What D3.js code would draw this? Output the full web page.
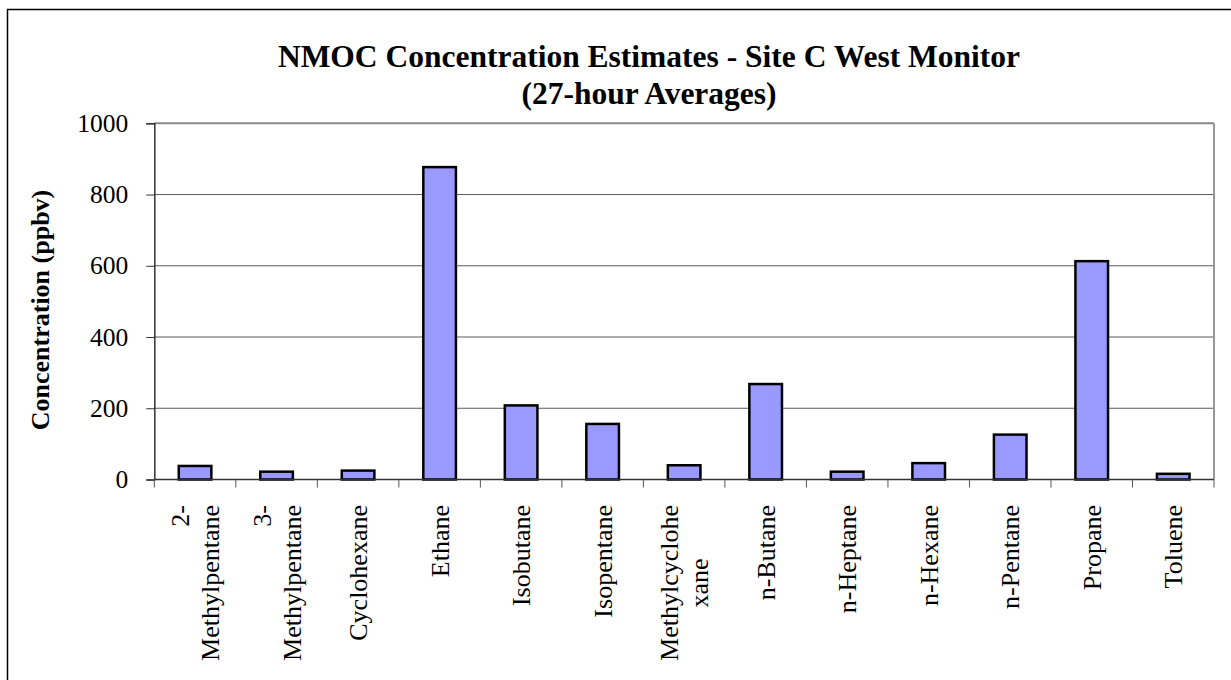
<!DOCTYPE html>
<html>
<head>
<meta charset="utf-8">
<script src="https://cdn.jsdelivr.net/npm/d3@7"></script>
<style>
  html, body { margin: 0; padding: 0; background: #fff; }
  svg { display: block; }
  text { font-family: "Liberation Serif", "Times New Roman", serif; fill: #000; }
</style>
</head>
<body>
<script>
// ---- data ----
const categories = [
  "2-\nMethylpentane", "3-\nMethylpentane", "Cyclohexane", "Ethane", "Isobutane",
  "Isopentane", "Methylcyclohe\nxane", "n-Butane", "n-Heptane", "n-Hexane",
  "n-Pentane", "Propane", "Toluene"
];
const values = [38, 22, 25, 877, 208, 156, 40, 268, 22, 46, 126, 613, 16];
const yTicks = [0, 200, 400, 600, 800, 1000];
const titleLines = ["NMOC Concentration Estimates - Site C West Monitor", "(27-hour Averages)"];
const yLabel = "Concentration (ppbv)";

// ---- layout ----
const W = 1231, H = 680;
const plot = { left: 154.3, right: 1214, top: 123.3, bottom: 479.5 };

const svg = d3.select("body").append("svg").attr("width", W).attr("height", H);

// outer chart border (only left/top visible in reference)
svg.append("rect")
  .attr("x", 7.5).attr("y", 9.5).attr("width", 1400).attr("height", 800)
  .attr("fill", "#fff").attr("stroke", "#000").attr("stroke-width", 1.5);

const x = d3.scaleBand().domain(categories).range([plot.left, plot.right]).padding(0);
const y = d3.scaleLinear().domain([0, 1000]).range([plot.bottom, plot.top]);

// gridlines
svg.append("g").selectAll("line").data(yTicks.filter(t => t > 0 && t < 1000)).join("line")
  .attr("x1", plot.left).attr("x2", plot.right)
  .attr("y1", d => y(d)).attr("y2", d => y(d))
  .attr("stroke", "#5a5a5a").attr("stroke-width", 1);

// plot area border (top, right)
svg.append("line").attr("x1", plot.left).attr("x2", plot.right)
  .attr("y1", y(1000)).attr("y2", y(1000)).attr("stroke", "#888").attr("stroke-width", 2);
svg.append("line").attr("x1", plot.right).attr("x2", plot.right)
  .attr("y1", plot.top).attr("y2", plot.bottom).attr("stroke", "#999").attr("stroke-width", 2);

// bars
const bw = x.bandwidth() / 2.5;
svg.append("g").selectAll("rect").data(categories).join("rect")
  .attr("x", d => x(d) + x.bandwidth() / 2 - bw / 2)
  .attr("y", (d, i) => y(values[i]))
  .attr("width", bw)
  .attr("height", (d, i) => y(0) - y(values[i]))
  .attr("fill", "#9999FF").attr("stroke", "#000").attr("stroke-width", 2.5);

// y axis
const yAxis = d3.axisLeft(y).tickValues(yTicks).tickSize(8).tickPadding(18).tickFormat(d3.format("d"));
const gy = svg.append("g").attr("transform", `translate(${plot.left},0)`).call(yAxis);
gy.select(".domain").attr("stroke", "#333").attr("stroke-width", 1.5);
gy.selectAll(".tick line").attr("stroke", "#333").attr("stroke-width", 1);
gy.selectAll(".tick text").style("font-size", "25.5px").attr("fill", "#000")
  .attr("font-family", "Liberation Serif");

// x axis line and ticks at band boundaries
svg.append("line").attr("x1", plot.left).attr("x2", plot.right)
  .attr("y1", y(0)).attr("y2", y(0)).attr("stroke", "#333").attr("stroke-width", 1.5);
const bounds = categories.map(c => x(c)).concat([plot.right]);
svg.append("g").selectAll("line").data(bounds).join("line")
  .attr("x1", d => d).attr("x2", d => d)
  .attr("y1", y(0)).attr("y2", y(0) + 8)
  .attr("stroke", "#555").attr("stroke-width", 1);

// x labels (rotated)
const labelTop = 505;
const lineGap = 30;
const gx = svg.append("g");
categories.forEach(c => {
  const lines = c.split("\n");
  const cx = x(c) + x.bandwidth() / 2;
  const n = lines.length;
  const hyphenBreak = n > 1 && lines[0].endsWith("-");
  // width of longest line to center shorter lines
  const tmp = gx.append("text").style("font-size", "26px").text(lines.reduce((a, b) => a.length >= b.length ? a : b));
  const longW = tmp.node().getComputedTextLength();
  tmp.remove();
  lines.forEach((ln, j) => {
    const lx = cx + (j - (n - 1) / 2) * lineGap;
    const anchorMiddle = n > 1 && !hyphenBreak;
    const ty = anchorMiddle ? labelTop + longW / 2 : labelTop;
    gx.append("text")
      .attr("transform", `translate(${lx},${ty}) rotate(-90)`)
      .attr("text-anchor", anchorMiddle ? "middle" : "end")
      .attr("dy", "0.35em")
      .style("font-size", "26px")
      .text(ln);
  });
});

// y-axis title
svg.append("text")
  .attr("transform", `translate(40,310) rotate(-90)`)
  .attr("text-anchor", "middle").attr("dy", "0.35em")
  .style("font-size", "26px").style("font-weight", "bold")
  .text(yLabel);

// chart title
svg.append("g").selectAll("text").data(titleLines).join("text")
  .attr("x", 649).attr("y", (d, i) => 67 + i * 37)
  .attr("text-anchor", "middle")
  .style("font-size", "31.5px").style("font-weight", "bold")
  .text(d => d);
</script>
</body>
</html>
